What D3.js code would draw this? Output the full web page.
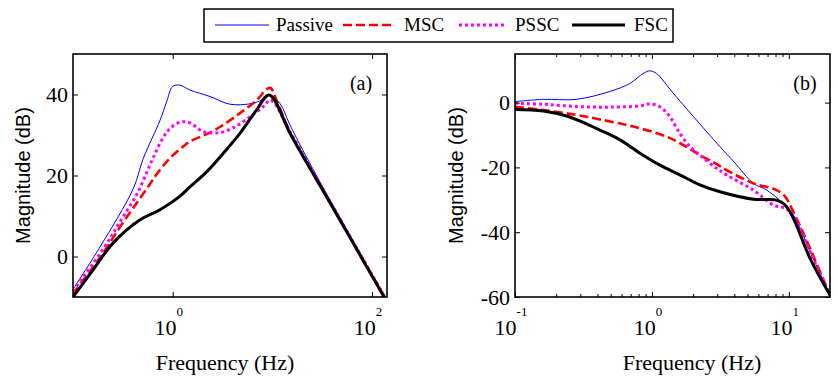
<!DOCTYPE html>
<html><head><meta charset="utf-8">
<script src="https://cdn.jsdelivr.net/npm/d3@7"></script>
<style>body{margin:0;background:#fff}svg{display:block}</style>
</head><body>
<script>
// ---------- DATA ----------
const seriesNames = ["Passive", "MSC", "PSSC", "FSC"];

// Panel (a)
const fA_passive = [0.1, 0.187, 0.403, 0.507, 0.746, 0.87, 1.0, 1.18, 1.49, 2.37, 3.76, 5.96, 7.8, 9.3, 11.9, 15, 25, 134];
const mA_passive = [-8.1, 2.4, 16.8, 24.2, 33.6, 38.2, 42.0, 42.3, 41.1, 39.5, 37.6, 37.7, 38.6, 39.9, 37.8, 32.5, 22.0, -10];
const fA_msc = [0.1, 0.2, 0.30, 0.435, 0.588, 0.69, 0.94, 1.28, 1.49, 2.37, 3.22, 4.73, 6.96, 8.77, 9.6, 11.0, 15.5, 33.6, 134];
const mA_msc = [-9.2, 0.8, 7.5, 13.2, 17.8, 20.3, 24.3, 27.2, 28.4, 30.6, 32.5, 35.4, 38.6, 41.3, 41.6, 38.6, 30.0, 15.5, -10];
const fA_pssc = [0.1, 0.2, 0.30, 0.435, 0.55, 0.64, 0.8, 0.94, 1.2, 1.49, 2.03, 2.98, 4.06, 5.96, 8.1, 9.6, 15.5, 33.6, 134];
const mA_pssc = [-8.5, 1.8, 8.8, 15.3, 20.8, 24.5, 29.3, 31.6, 33.2, 33.0, 30.8, 30.6, 31.8, 34.5, 37.0, 38.6, 30.2, 15.8, -10];
const fA_fsc = [0.1, 0.159, 0.252, 0.467, 0.74, 1.17, 1.49, 2.19, 3.22, 4.73, 6.96, 9.3, 15.5, 33.6, 132];
const mA_fsc = [-10, -3.3, 3.3, 9.0, 11.5, 14.8, 17.2, 20.9, 25.5, 30.4, 36.2, 39.9, 29.8, 15.5, -10];

// Panel (b)
const fB_passive = [0.1, 0.161, 0.28, 0.49, 0.69, 0.865, 0.97, 1.08, 1.146, 1.35, 2.0, 3.14, 4.0, 5.5, 6.9, 9.1, 10.8, 14.3, 20];
const mB_passive = [0.3, 1.0, 1.0, 3.4, 5.9, 9.0, 9.8, 9.0, 8.0, 4.2, -4.2, -13.6, -18.4, -24.9, -27.0, -31.1, -34.7, -46.0, -59.4];
const fB_msc = [0.1, 0.161, 0.28, 0.418, 0.73, 1.28, 1.7, 2.24, 2.89, 3.5, 5.5, 8.15, 9.4, 10.8, 14.3, 20];
const mB_msc = [-1.3, -2.3, -3.8, -5.2, -7.4, -10.5, -13.1, -16.2, -18.7, -20.8, -24.9, -27.0, -29.0, -33.7, -45.0, -59.5];
const fB_pssc = [0.1, 0.161, 0.28, 0.49, 0.818, 0.97, 1.146, 1.35, 1.6, 1.9, 2.24, 2.97, 3.5, 5.5, 7.7, 9.4, 10.8, 14.3, 20];
const mB_pssc = [-0.2, -0.5, -1.2, -1.4, -1.0, -0.4, -1.3, -4.3, -9.5, -13.6, -16.2, -20.3, -22.3, -27.0, -31.6, -32.6, -34.7, -46.0, -59.4];
const fB_fsc = [0.1, 0.161, 0.245, 0.418, 0.585, 0.818, 1.146, 1.6, 2.24, 3.14, 5.5, 8.15, 9.4, 10.8, 14.3, 20];
const mB_fsc = [-2.1, -2.6, -4.3, -8.5, -11.5, -15.6, -19.3, -22.3, -25.4, -27.5, -29.8, -30.1, -31.6, -35.7, -48.1, -59.4];

// Axis ticks
const xTicksA = [1, 100];
const yTicksA = [0, 20, 40];
const xTicksB = [0.1, 1, 10];
const xMinorB = [0.2,0.3,0.4,0.5,0.6,0.7,0.8,0.9,2,3,4,5,6,7,8,9];
const yTicksB = [-60, -40, -20, 0];

// ---------- DRAW ----------
const W = 838, H = 379;
const svg = d3.select("body").append("svg").attr("width", W).attr("height", H);
svg.append("rect").attr("width", W).attr("height", H).attr("fill", "#fff");

const styles = [
  {color: "#0000ff", width: 1, dash: null},
  {color: "#ff0000", width: 2.6, dash: "9,4"},
  {color: "#ff00ff", width: 3, dash: "3,3"},
  {color: "#000000", width: 3, dash: null}
];

const serif = "'Liberation Serif','Times New Roman',serif";
const sans = "'Liberation Sans',Arial,sans-serif";

function panel(cfg) {
  const x = d3.scaleLog().domain(cfg.xDomain).range([cfg.x0, cfg.x1]);
  const y = d3.scaleLinear().domain(cfg.yDomain).range([cfg.y1, cfg.y0]);
  const g = svg.append("g");
  const clipId = "clip" + cfg.id;
  svg.append("clipPath").attr("id", clipId).append("rect")
    .attr("x", cfg.x0).attr("y", cfg.y0).attr("width", cfg.x1 - cfg.x0).attr("height", cfg.y1 - cfg.y0);

  const line = d3.line().x(d => x(d[0])).y(d => y(d[1])).curve(d3.curveCatmullRom.alpha(0.5));
  const lg = g.append("g").attr("clip-path", `url(#${clipId})`);
  cfg.series.forEach((s, i) => {
    const pts = s.f.map((f, k) => [f, s.m[k]]);
    lg.append("path").datum(pts).attr("d", line)
      .attr("fill", "none").attr("stroke", styles[i].color)
      .attr("stroke-width", styles[i].width)
      .attr("stroke-dasharray", styles[i].dash)
      .attr("stroke-linejoin", "round");
  });

  const tickStyle = sel => { sel.select(".domain").remove(); sel.selectAll("text").remove(); sel.selectAll("line").attr("stroke", "#000").attr("stroke-width", 1); };
  g.append("g").attr("transform", `translate(0,${cfg.y1})`).call(d3.axisBottom(x).tickValues(cfg.xTicks).tickSize(-5)).call(tickStyle);
  g.append("g").attr("transform", `translate(0,${cfg.y0})`).call(d3.axisTop(x).tickValues(cfg.xTicks).tickSize(-5)).call(tickStyle);
  if (cfg.xMinor) {
    g.append("g").attr("transform", `translate(0,${cfg.y1})`).call(d3.axisBottom(x).tickValues(cfg.xMinor).tickSize(-3)).call(tickStyle);
    g.append("g").attr("transform", `translate(0,${cfg.y0})`).call(d3.axisTop(x).tickValues(cfg.xMinor).tickSize(-3)).call(tickStyle);
  }
  g.append("g").attr("transform", `translate(${cfg.x0},0)`).call(d3.axisLeft(y).tickValues(cfg.yTicks).tickSize(-5)).call(tickStyle);
  g.append("g").attr("transform", `translate(${cfg.x1},0)`).call(d3.axisRight(y).tickValues(cfg.yTicks).tickSize(-5)).call(tickStyle);

  g.append("rect").attr("x", cfg.x0).attr("y", cfg.y0).attr("width", cfg.x1 - cfg.x0).attr("height", cfg.y1 - cfg.y0)
    .attr("fill", "none").attr("stroke", "#000").attr("stroke-width", 1.6);

  g.selectAll(".yl").data(cfg.yTicks).enter().append("text")
    .attr("x", cfg.x0 - 5).attr("y", d => y(d)).attr("dy", "0.35em")
    .attr("text-anchor", "end").attr("font-family", serif).attr("font-size", 22)
    .text(d => d);

  cfg.xTicks.forEach(v => {
    const t = g.append("text").attr("x", x(v) - 4).attr("y", cfg.y1 + 38)
      .attr("text-anchor", "middle").attr("font-family", serif).attr("font-size", 22);
    t.append("tspan").text("10");
    t.append("tspan").attr("dy", -19).attr("font-size", 13).text(Math.round(Math.log10(v)));
  });

  g.append("text").attr("x", cfg.xTitleX).attr("y", 370).attr("text-anchor", "middle")
    .attr("font-family", serif).attr("font-size", 22).text("Frequency (Hz)");
  g.append("text").attr("transform", `translate(${cfg.yTitleX},${(cfg.y0 + cfg.y1) / 2}) rotate(-90)`)
    .attr("text-anchor", "middle").attr("dy", "0.35em")
    .attr("font-family", sans).attr("font-size", 20).text("Magnitude (dB)");

  g.append("text").attr("x", cfg.labelX).attr("y", 90).attr("text-anchor", "middle")
    .attr("font-family", serif).attr("font-size", 20).text(cfg.label);
}

panel({
  id: "A", x0: 73, x1: 387, y0: 54, y1: 297,
  xDomain: [0.1, Math.pow(10, 2.15)], yDomain: [-10, 50],
  xTicks: xTicksA, yTicks: yTicksA, xMinor: null,
  xTitleX: 225, yTitleX: 23, labelX: 361, label: "(a)",
  series: [
    {f: fA_passive, m: mA_passive}, {f: fA_msc, m: mA_msc},
    {f: fA_pssc, m: mA_pssc}, {f: fA_fsc, m: mA_fsc}
  ]
});

panel({
  id: "B", x0: 515, x1: 830, y0: 54, y1: 297,
  xDomain: [0.1, 20], yDomain: [-60, 15],
  xTicks: xTicksB, yTicks: yTicksB, xMinor: xMinorB,
  xTitleX: 692, yTitleX: 456, labelX: 805, label: "(b)",
  series: [
    {f: fB_passive, m: mB_passive}, {f: fB_msc, m: mB_msc},
    {f: fB_pssc, m: mB_pssc}, {f: fB_fsc, m: mB_fsc}
  ]
});

const leg = svg.append("g");
leg.append("rect").attr("x", 204).attr("y", 9).attr("width", 469).attr("height", 33)
  .attr("fill", "#fff").attr("stroke", "#000").attr("stroke-width", 1.5);
const legX = [[215, 269, 276], [343, 394, 404], [459, 505, 515], [572, 625, 634]];
seriesNames.forEach((n, i) => {
  leg.append("line").attr("x1", legX[i][0]).attr("x2", legX[i][1]).attr("y1", 25).attr("y2", 25)
    .attr("stroke", styles[i].color).attr("stroke-width", styles[i].width)
    .attr("stroke-dasharray", styles[i].dash);
  leg.append("text").attr("x", legX[i][2]).attr("y", 31).attr("font-family", serif)
    .attr("font-size", 19).text(n);
});
</script>
</body></html>
